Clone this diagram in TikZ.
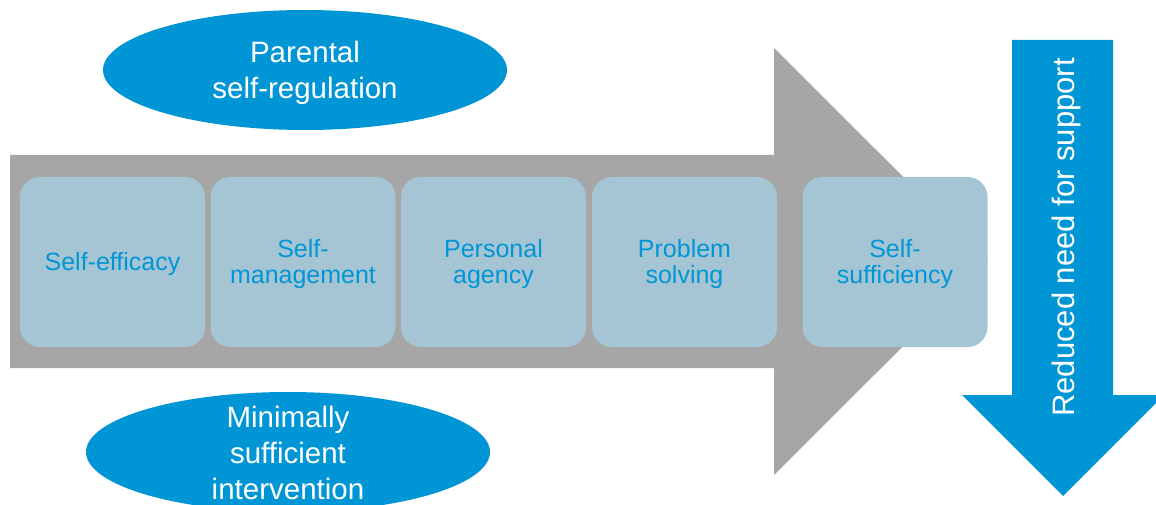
\documentclass[tikz,border=0pt]{standalone}
\usepackage{fontspec}
\setmainfont{Liberation Sans}
\usetikzlibrary{shapes.geometric}
\definecolor{mblue}{RGB}{0,150,214}
\definecolor{boxfill}{RGB}{165,197,212}
\definecolor{agray}{RGB}{166,166,166}
\begin{document}
\begin{tikzpicture}[x=1pt,y=-1pt,
  stagebox/.style={rectangle, rounded corners=20pt, fill=boxfill, minimum width=185pt, minimum height=170pt, inner sep=0pt},
  stagetext/.style={text=mblue, align=center, inner sep=0pt, font=\fontsize{25}{26.5}\selectfont},
  oval/.style={ellipse, fill=mblue, minimum width=404pt, minimum height=120pt, inner sep=0pt},
  ovaltext/.style={text=white, align=center, inner sep=0pt, font=\fontsize{29.5}{36}\selectfont}]
\clip (0,0) rectangle (1156,505);
\fill[white] (0,0) rectangle (1156,505);
% gray process arrow
\fill[agray] (10,155) -- (774,155) -- (774,48) -- (988,261.5) -- (774,475) -- (774,368) -- (10,368) -- cycle;
% blue down arrow
\fill[mblue] (1012,40) -- (1113,40) -- (1113,395) -- (1164,395) -- (1063,496) -- (962,395) -- (1012,395) -- cycle;
\node[rotate=90, text=white, font=\fontsize{31}{36}\selectfont, inner sep=0pt] (reduced) at (1066,237.5) {Reduced need for support};
% stages
\node[stagebox] (b1) at (112.5,262) {};
\node[stagebox] (b2) at (303,262) {};
\node[stagebox] (b3) at (493.5,262) {};
\node[stagebox] (b4) at (684.5,262) {};
\node[stagebox] (b5) at (895,262) {};
\node[stagetext, yshift=-2pt] (t1) at (b1.center) {Self-efficacy};
\node[stagetext, yshift=-2pt] (t2) at (b2.center) {Self-\\management};
\node[stagetext, yshift=-2pt] (t3) at (b3.center) {Personal\\agency};
\node[stagetext, yshift=-2pt] (t4) at (b4.center) {Problem\\solving};
\node[stagetext, yshift=-2pt] (t5) at (b5.center) {Self-\\sufficiency};
% ellipses
\node[oval] (e1) at (305,70) {};
\node[oval] (e2) at (288,452) {};
\node[ovaltext, yshift=-3pt] (l1) at (e1.center) {Parental\\self-regulation};
\node[ovaltext, yshift=-1pt] (l2) at (e2.center) {Minimally\\sufficient\\intervention};
\end{tikzpicture}
\end{document}
